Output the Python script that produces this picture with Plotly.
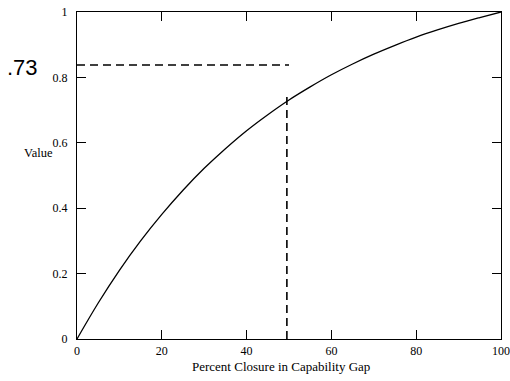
import plotly.graph_objects as go

# ---- data ----
closure = [0, 5, 10, 15, 20, 25, 30, 35, 40, 45, 50, 55, 60, 65, 70, 75, 80, 85, 90, 95, 100]
value = [0, 0.110, 0.210, 0.300, 0.381, 0.455, 0.522, 0.582, 0.637, 0.686, 0.731,
         0.771, 0.808, 0.841, 0.871, 0.898, 0.923, 0.945, 0.965, 0.983, 1.0]

hline_x = [0, 50]
hline_y = [0.838, 0.838]
vline_x = [49.5, 49.5]
vline_y = [0, 0.74]

xticks = [0, 20, 40, 60, 80, 100]
yticks = [0, 0.2, 0.4, 0.6, 0.8, 1]
ytick_text = ["0", "0.2", "0.4", "0.6", "0.8", "1"]

serif = "Liberation Serif, Times New Roman, serif"

fig = go.Figure()

fig.add_trace(go.Scatter(
    x=closure, y=value, mode="lines",
    line=dict(color="black", width=1.3, shape="spline"),
    showlegend=False, hoverinfo="x+y"
))
fig.add_trace(go.Scatter(
    x=hline_x, y=hline_y, mode="lines",
    line=dict(color="black", width=1.6, dash="8px,5px"),
    showlegend=False
))
fig.add_trace(go.Scatter(
    x=vline_x, y=vline_y, mode="lines",
    line=dict(color="black", width=1.6, dash="8px,5px"),
    showlegend=False
))

axis_common = dict(
    showline=True, linecolor="black", linewidth=1, mirror="ticks",
    ticks="inside", ticklen=9, tickcolor="black", tickwidth=1,
    showgrid=False, zeroline=False, automargin=False,
    tickfont=dict(family=serif, size=12, color="black"),
)

fig.update_layout(
    width=510, height=381,
    margin=dict(l=77, r=9, t=12, b=42),
    plot_bgcolor="white", paper_bgcolor="white",
    xaxis=dict(range=[0, 100], tickvals=xticks, ticklabelstandoff=1, **axis_common),
    yaxis=dict(range=[0, 1], tickvals=yticks, ticktext=ytick_text, ticklabelstandoff=6, **axis_common),
    annotations=[
        dict(x=48, y=-0.085, xref="x", yref="paper", text="Percent Closure in Capability Gap",
             showarrow=False, font=dict(family=serif, size=13, color="black"),
             xanchor="center", yanchor="middle"),
        dict(x=0, y=0.568, xref="paper", yref="y", xanchor="right", yanchor="middle",
             text="Value", showarrow=False, font=dict(family=serif, size=12.5, color="black")),
        dict(x=0, y=0.829, xref="paper", yref="y", xanchor="left", yanchor="middle",
             text=".73", showarrow=False,
             font=dict(family="Liberation Sans, Arial, sans-serif", size=22, color="black")),
    ],
)

# pixel positions for the paper-ref annotations
fig.layout.annotations[1].x = (55 - 77) / 424
fig.layout.annotations[2].x = (5 - 77) / 424

# page body has an 8px default margin; drop it so the figure sits at 0,0
fig.write_html("out.html", config={"displayModeBar": False},
               post_script="document.body.style.margin='0';")
